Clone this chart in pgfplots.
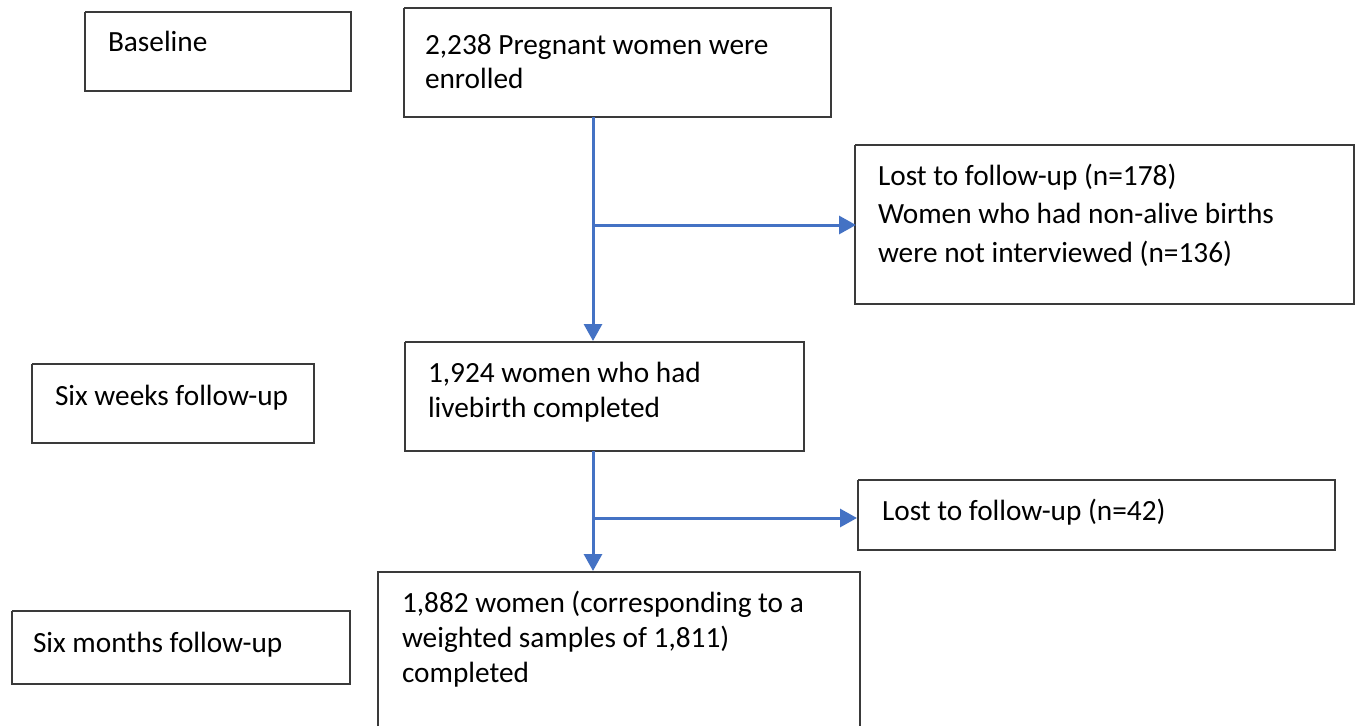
\documentclass[border=0pt]{standalone}
\usepackage{pgfplots}
\pgfplotsset{compat=1.18}
\usepackage{fontspec}
\setmainfont{Carlito}
\usetikzlibrary{arrows.meta}
\definecolor{boxgray}{HTML}{3A3A3A}
\definecolor{arrowblue}{HTML}{4472C4}
\tikzset{lbl/.style={font=\fontsize{14.65bp}{17.5bp}\selectfont, inner sep=0pt, outer sep=0pt, anchor=base west, text=black}}
\begin{document}
\begin{tikzpicture}
\begin{axis}[
  scale only axis, width=678.5bp, height=363bp,
  xmin=0, xmax=1357, ymin=0, ymax=726, y dir=reverse,
  hide axis, clip=false,
]
% invisible frame to fix bounding box
\addplot[draw=none] coordinates {(0,0) (1357,726)};
% boxes
\addplot[boxgray, line width=1bp] coordinates {(85,12) (351,12) (351,91) (85,91) (85,12)};
\addplot[boxgray, line width=1bp] coordinates {(404,8) (831,8) (831,117) (404,117) (404,8)};
\addplot[boxgray, line width=1bp] coordinates {(855,145) (1354,145) (1354,304) (855,304) (855,145)};
\addplot[boxgray, line width=1bp] coordinates {(32,364) (314,364) (314,443) (32,443) (32,364)};
\addplot[boxgray, line width=1bp] coordinates {(405,342) (804,342) (804,451) (405,451) (405,342)};
\addplot[boxgray, line width=1bp] coordinates {(858,480) (1335,480) (1335,550) (858,550) (858,480)};
\addplot[boxgray, line width=1bp] coordinates {(12,611) (350,611) (350,684) (12,684) (12,611)};
\addplot[boxgray, line width=1bp] coordinates {(378,726) (378,572) (860,572) (860,726)};
% arrows
\addplot[arrowblue, line width=1.5bp, -{Triangle[width=9bp,length=8.5bp]}] coordinates {(593,117) (593,341)};
\addplot[arrowblue, line width=1.5bp, -{Triangle[width=9bp,length=8.5bp]}] coordinates {(593,225) (856,225)};
\addplot[arrowblue, line width=1.5bp, -{Triangle[width=9bp,length=8.5bp]}] coordinates {(593,451) (593,571)};
\addplot[arrowblue, line width=1.5bp, -{Triangle[width=9bp,length=8.5bp]}] coordinates {(593,518) (857,518)};
% texts
\node[lbl] at (axis cs:108,52) {Baseline};
\node[lbl] at (axis cs:425,55) {2,238 Pregnant women were};
\node[lbl] at (axis cs:425,88) {enrolled};
\node[lbl] at (axis cs:878,185) {Lost to follow-up (n=178)};
\node[lbl] at (axis cs:878,223) {Women who had non-alive births};
\node[lbl] at (axis cs:878,262) {were not interviewed (n=136)};
\node[lbl] at (axis cs:55,405) {Six weeks follow-up};
\node[lbl] at (axis cs:428,382) {1,924 women who had};
\node[lbl] at (axis cs:428,417) {livebirth completed};
\node[lbl] at (axis cs:882,520) {Lost to follow-up (n=42)};
\node[lbl] at (axis cs:33,652) {Six months follow-up};
\node[lbl] at (axis cs:402,612) {1,882 women (corresponding to a};
\node[lbl] at (axis cs:402,647) {weighted samples of 1,811)};
\node[lbl] at (axis cs:402,682) {completed};
\end{axis}
\end{tikzpicture}
\end{document}
